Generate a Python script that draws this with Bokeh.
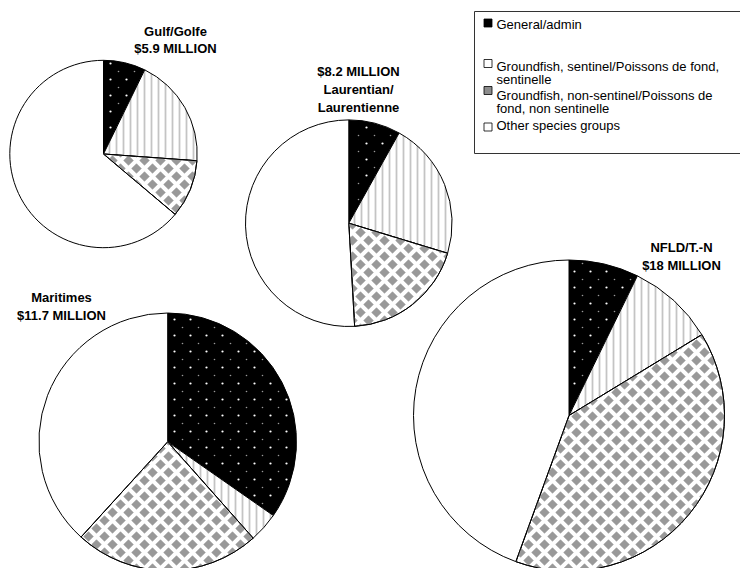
import math

from bokeh.core.properties import value
from bokeh.embed import file_html
from bokeh.models import ColumnDataSource, Range1d
from bokeh.plotting import figure
from bokeh.resources import INLINE

W, H = 740, 568

# ---- data -------------------------------------------------------------
regions = ["Gulf/Golfe", "Laurentian/Laurentienne", "Maritimes", "NFLD/T.-N"]
totals_millions = [5.9, 8.2, 11.7, 18]

categories = [
    "General/admin",
    "Groundfish, sentinel/Poissons de fond, sentinelle",
    "Groundfish, non-sentinel/Poissons de fond, non sentinelle",
    "Other species groups",
]
# share of each region's budget (%), per category
general_admin = [7.25, 8.1, 34.7, 7.25]
groundfish_sentinel = [18.9, 21.6, 3.75, 9.05]
groundfish_non_sentinel = [10.0, 19.4, 23.3, 39.25]
other_species = [63.85, 50.9, 38.25, 44.45]

# ---- layout (pixel coordinates, y measured from the top) ---------------
pie_centers = [(103.0, 153.5), (348.3, 222.7), (167.2, 441.3), (568.5, 415.0)]
pie_radii = [93.7, 103.3, 128.8, 155.5]

# each title: lines, centre x, first baseline, line step
money = ["${:g} MILLION".format(t) for t in totals_millions]
title_lines = [
    ["Gulf/Golfe", money[0]],
    [money[1], "Laurentian/", "Laurentienne"],
    ["Maritimes", money[2]],
    ["NFLD/T.-N", money[3]],
]
title_pos = [(175, 30.5, 17.5), (358, 71.0, 17.8), (61, 296.5, 18.5), (681, 246.5, 18.5)]

# legend rows: wrapped text lines with their baselines
legend_lines = [
    ["General/admin"],
    ["Groundfish, sentinel/Poissons de fond,", "sentinelle"],
    ["Groundfish, non-sentinel/Poissons de", "fond, non sentinelle"],
    ["Other species groups"],
]
legend_baselines = [[23.5], [65.5, 78.5], [94.5, 107.5], [124.5]]
legend_swatch_top = [18.5, 59.0, 86.0, 122.5]

styles = [
    dict(fill_color="black"),
    dict(fill_color="white", hatch_pattern="vertical_line", hatch_color="#c4c4c4",
         hatch_scale=7, hatch_weight=1.8),
    dict(fill_color="white"),
    dict(fill_color="white"),
]
swatch_fill = ["black", "white", "#8c8c8c", "white"]
DIAMOND_GREY = "#999999"

FONT = value("Liberation Sans")


def fy(y):
    """Top-based pixel y to data y."""
    return H - y


p = figure(width=W, height=H, x_range=Range1d(0, W), y_range=Range1d(0, H),
           output_backend="svg", toolbar_location=None,
           x_axis_location=None, y_axis_location=None,
           min_border=0, outline_line_color=None)
p.grid.visible = False
p.background_fill_color = "white"
p.border_fill_color = "white"

# ---- legend box --------------------------------------------------------
p.quad(left=[474], right=[760], top=[fy(11)], bottom=[fy(153)],
       fill_color="white", line_color="#333333", line_width=1)

sw = dict(left=[], right=[], top=[], bottom=[], color=[])
for i, top in enumerate(legend_swatch_top):
    sw["left"].append(483.5)
    sw["right"].append(491.5)
    sw["top"].append(fy(top))
    sw["bottom"].append(fy(top + 8))
    sw["color"].append(swatch_fill[i])
p.quad(left="left", right="right", top="top", bottom="bottom", fill_color="color",
       line_color="black", line_width=0.8, source=ColumnDataSource(sw))

lx, ly, lt = [], [], []
for lines, bases in zip(legend_lines, legend_baselines):
    for line, b in zip(lines, bases):
        lx.append(496)
        ly.append(fy(b))
        lt.append(line)
p.text(x=lx, y=ly, text=lt, text_font=FONT, text_font_size="13px",
       text_color="black", text_align="left", text_baseline="alphabetic")

# ---- pies ----------------------------------------------------------------
series = [general_admin, groundfish_sentinel, groundfish_non_sentinel, other_species]
cum = [0.0] * len(regions)
spans = []  # (pie index, category index, start fraction, end fraction)
wedge_sources = []
for k, vals in enumerate(series):
    data = dict(x=[], y=[], r=[], start=[], end=[])
    for j, v in enumerate(vals):
        tot = sum(s[j] for s in series)
        c0 = cum[j] / tot
        c1 = (cum[j] + v) / tot
        cum[j] += v
        spans.append((j, k, c0, c1))
        cx, cy = pie_centers[j]
        data["x"].append(cx)
        data["y"].append(fy(cy))
        data["r"].append(pie_radii[j])
        data["start"].append(math.pi / 2 - 2 * math.pi * c1)
        data["end"].append(math.pi / 2 - 2 * math.pi * c0)
    src = ColumnDataSource(data)
    wedge_sources.append(src)
    p.wedge(x="x", y="y", radius="r", start_angle="start", end_angle="end",
            line_color="black", line_width=1, source=src, **styles[k])


def sector_polygon(j, c0, c1, n=120):
    cx, cy = pie_centers[j]
    R = pie_radii[j]
    a0, a1 = 2 * math.pi * c0, 2 * math.pi * c1
    pts = [(cx, cy)]
    steps = max(4, int(n * (c1 - c0)) + 2)
    for i in range(steps + 1):
        t = a0 + (a1 - a0) * i / steps
        pts.append((cx + R * math.sin(t), cy - R * math.cos(t)))
    return pts


def clip(subject, clipper):
    """Sutherland-Hodgman clipping against a convex polygon."""
    area = sum(clipper[i][0] * clipper[i - 1][1] - clipper[i - 1][0] * clipper[i][1]
               for i in range(len(clipper)))
    sgn = 1 if area < 0 else -1

    def side(a, b, q):
        return sgn * ((b[0] - a[0]) * (q[1] - a[1]) - (b[1] - a[1]) * (q[0] - a[0]))

    out = subject
    for i in range(len(clipper)):
        a, b = clipper[i - 1], clipper[i]
        if not out:
            break
        inp, out = out, []
        for m in range(len(inp)):
            cur, prev = inp[m], inp[m - 1]
            sc, sp = side(a, b, cur), side(a, b, prev)
            if sc >= 0:
                if sp < 0:
                    t = sp / (sp - sc)
                    out.append((prev[0] + t * (cur[0] - prev[0]), prev[1] + t * (cur[1] - prev[1])))
                out.append(cur)
            elif sp >= 0:
                t = sp / (sp - sc)
                out.append((prev[0] + t * (cur[0] - prev[0]), prev[1] + t * (cur[1] - prev[1])))
    return out


# grey diamond texture on the non-sentinel groundfish slices
period, half = 16, 4.8
dxs, dys = [], []
for j, k, c0, c1 in spans:
    if k != 2:
        continue
    poly = sector_polygon(j, c0, c1)
    cx, cy = pie_centers[j]
    R = pie_radii[j]
    for off in (0, period / 2):
        x = off + period * math.floor((cx - R) / period) - period
        while x <= cx + R + period:
            y = off + period * math.floor((cy - R) / period) - period
            while y <= cy + R + period:
                d = [(x - half, y), (x, y - half), (x + half, y), (x, y + half)]
                c = clip(d, poly)
                if len(c) >= 3:
                    dxs.append([q[0] for q in c])
                    dys.append([fy(q[1]) for q in c])
                y += period
            x += period
p.patches(xs=dxs, ys=dys, fill_color=DIAMOND_GREY, line_color=DIAMOND_GREY,
          line_width=0.6)
p.wedge(x="x", y="y", radius="r", start_angle="start", end_angle="end",
        fill_color=None, line_color="black", line_width=1, source=wedge_sources[2])


# white speckle texture on the General/admin slices
def speckles(period, ox, oy):
    xs, ys = [], []
    for j, k, c0, c1 in spans:
        if k != 0:
            continue
        cx, cy = pie_centers[j]
        R = pie_radii[j]
        a0, a1 = 2 * math.pi * c0, 2 * math.pi * c1
        x = ox + period * math.floor((cx - R - ox) / period)
        while x <= cx + R:
            y = oy + period * math.floor((cy - R - oy) / period)
            while y <= cy + R:
                dx, dy = x - cx, cy - y
                rr = math.hypot(dx, dy)
                th = math.atan2(dx, dy) % (2 * math.pi)
                if 3 < rr < R - 2.5 and rr * (th - a0) > 2.5 and rr * (a1 - th) > 2.5:
                    xs.append(x)
                    ys.append(fy(y))
                y += period
            x += period
    return xs, ys


bx, by = speckles(16, 14, 15)
p.scatter(x=bx, y=by, size=2.2, marker="circle", fill_color="white",
          line_color=None)
sx, sy = speckles(16, 6, 7)
p.scatter(x=sx, y=sy, size=1.6, marker="circle", fill_color="white",
          fill_alpha=0.6, line_color=None)

# ---- titles --------------------------------------------------------------
tx, ty, tt = [], [], []
for lines, (cx, b0, step) in zip(title_lines, title_pos):
    for n, line in enumerate(lines):
        tx.append(cx)
        ty.append(fy(b0 + n * step))
        tt.append(line)
p.text(x=tx, y=ty, text=tt, text_font=FONT, text_font_style="bold",
       text_font_size="13px", text_color="black", text_align="center",
       text_baseline="alphabetic")

open("out.html", "w").write(file_html(p, INLINE))
